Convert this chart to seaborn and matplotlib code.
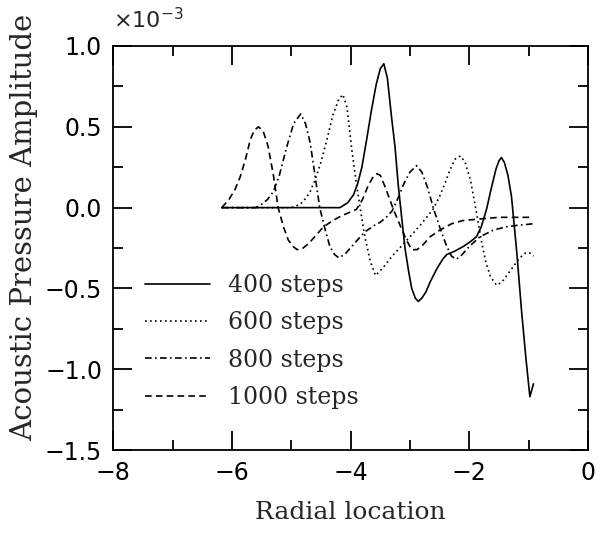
import numpy as np
import pandas as pd
import matplotlib
matplotlib.use("Agg")
import matplotlib.pyplot as plt
import seaborn as sns
from matplotlib.ticker import MultipleLocator, FormatStrFormatter

# amplitudes in units of 1e-3
x400 = [-6.17, -4.4, -4.18, -4.05, -3.95, -3.88, -3.81, -3.73, -3.65, -3.57, -3.5, -3.44,
        -3.38, -3.31, -3.25, -3.2, -3.14, -3.08, -3.02, -2.97, -2.91, -2.86, -2.8, -2.73,
        -2.66, -2.55, -2.45, -2.38, -2.25, -2.1, -1.98, -1.88, -1.8, -1.71, -1.63, -1.55,
        -1.5, -1.46, -1.41, -1.35, -1.29, -1.2, -1.12, -1.05, -0.98, -0.95, -0.92]
y400 = [0.0, 0.0, 0.0, 0.03, 0.08, 0.15, 0.25, 0.42, 0.6, 0.76, 0.86, 0.89,
        0.8, 0.56, 0.37, 0.15, -0.06, -0.26, -0.4, -0.5, -0.56, -0.58, -0.56, -0.52,
        -0.46, -0.38, -0.32, -0.29, -0.27, -0.24, -0.21, -0.18, -0.12, -0.01, 0.12, 0.24,
        0.29, 0.31, 0.28, 0.2, 0.07, -0.28, -0.64, -0.92, -1.17, -1.13, -1.09]

x600 = [-6.17, -5.0, -4.85, -4.75, -4.68, -4.6, -4.5, -4.4, -4.3, -4.2, -4.13, -4.06,
        -3.98, -3.91, -3.84, -3.76, -3.67, -3.58, -3.45, -3.3, -3.15, -3.0, -2.83, -2.72,
        -2.61, -2.5, -2.4, -2.33, -2.24, -2.15, -2.07, -1.98, -1.88, -1.8, -1.72, -1.64,
        -1.54, -1.45, -1.35, -1.25, -1.15, -1.05, -0.98, -0.92]
y600 = [0.0, 0.0, 0.02, 0.06, 0.1, 0.17, 0.28, 0.42, 0.57, 0.67, 0.7, 0.62,
        0.36, 0.17, 0.0, -0.18, -0.33, -0.42, -0.37, -0.3, -0.24, -0.18, -0.11, -0.06,
        -0.01, 0.07, 0.16, 0.23, 0.3, 0.32, 0.28, 0.17, -0.03, -0.2, -0.34, -0.43,
        -0.48, -0.46, -0.41, -0.36, -0.31, -0.28, -0.28, -0.3]

x800 = [-6.17, -5.6, -5.5, -5.4, -5.3, -5.2, -5.08, -4.96, -4.84, -4.76, -4.68, -4.6,
        -4.52, -4.44, -4.35, -4.27, -4.2, -4.1, -3.98, -3.86, -3.76, -3.6, -3.5, -3.4,
        -3.3, -3.2, -3.1, -3.0, -2.89, -2.8, -2.7, -2.6, -2.49, -2.38, -2.3, -2.22,
        -2.12, -2.0, -1.82, -1.6, -1.4, -1.2, -0.93]
y800 = [0.0, 0.0, 0.02, 0.05, 0.1, 0.2, 0.37, 0.52, 0.58, 0.52, 0.4, 0.2,
        0.0, -0.12, -0.24, -0.29, -0.31, -0.29, -0.24, -0.19, -0.15, -0.11, -0.09, -0.06,
        -0.02, 0.06, 0.15, 0.22, 0.26, 0.22, 0.12, -0.01, -0.13, -0.24, -0.3, -0.32,
        -0.29, -0.24, -0.18, -0.14, -0.12, -0.11, -0.1]

x1000 = [-6.17, -6.05, -5.95, -5.86, -5.77, -5.69, -5.62, -5.55, -5.47, -5.39, -5.3, -5.22,
         -5.13, -5.05, -4.97, -4.9, -4.8, -4.7, -4.58, -4.46, -4.3, -4.15, -4.02, -3.9,
         -3.8, -3.7, -3.62, -3.56, -3.5, -3.42, -3.35, -3.28, -3.2, -3.12, -3.06, -2.97,
         -2.88, -2.78, -2.66, -2.5, -2.3, -2.11, -1.82, -1.5, -1.2, -0.93]
y1000 = [0.0, 0.05, 0.11, 0.19, 0.3, 0.42, 0.48, 0.5, 0.47, 0.38, 0.2, 0.0,
         -0.12, -0.2, -0.24, -0.26, -0.25, -0.22, -0.17, -0.12, -0.08, -0.05, -0.03, -0.01,
         0.05, 0.14, 0.19, 0.21, 0.2, 0.13, 0.06, -0.01, -0.08, -0.15, -0.2, -0.26,
         -0.26, -0.23, -0.18, -0.14, -0.1, -0.08, -0.07, -0.06, -0.06, -0.06]

labels = ["400 steps", "600 steps", "800 steps", "1000 steps"]
styles = ["-", (0, (1, 2)), (0, (4, 2, 1, 2)), (0, (4, 2.5))]

sns.set_theme(style="ticks")
plt.rcParams['font.family'] = ['DejaVu Sans']

fig = plt.figure(figsize=(6.05, 5.41), dpi=100)
ax = fig.add_axes([0.187, 0.168, 0.785, 0.747])

series = [(x400, y400), (x600, y600), (x800, y800), (x1000, y1000)]
for (xs, ys), lab, ls in zip(series, labels, styles):
    df = pd.DataFrame({"r": xs, "p": ys})
    sns.lineplot(data=df, x="r", y="p", ax=ax, color="black", lw=1.2,
                 linestyle=ls, label=lab, sort=False, estimator=None)

ax.set_xlim(-8, 0)
ax.set_ylim(-1.5, 1.0)
ax.xaxis.set_major_locator(MultipleLocator(2))
ax.xaxis.set_minor_locator(MultipleLocator(1))
ax.yaxis.set_major_locator(MultipleLocator(0.5))
ax.yaxis.set_minor_locator(MultipleLocator(0.25))
ax.yaxis.set_major_formatter(FormatStrFormatter("%.1f"))
ax.set_yticklabels([t.get_text().replace("-", "\u2212") for t in ax.get_yticklabels()])

ax.tick_params(which="both", direction="in", top=True, right=True,
               labelsize=17, width=1.3, colors="black")
ax.tick_params(which="major", length=14, pad=8)
ax.tick_params(which="minor", length=7)
for s in ax.spines.values():
    s.set_linewidth(1.3)
    s.set_color("black")

# scale factor shown above the y axis
ax.text(0.0, 1.035, r"$\times10^{-3}$", transform=ax.transAxes, fontsize=16,
        ha="left", va="bottom")

ax.set_xlabel("Radial location", family="DejaVu Serif", fontsize=18, labelpad=11)
ax.set_ylabel("Acoustic Pressure Amplitude", family="DejaVu Serif", fontsize=21)
ax.yaxis.set_label_coords(-0.158, 0.55)

leg = ax.legend(loc="upper left", bbox_to_anchor=(0.067, 0.435), frameon=False,
                borderaxespad=0, borderpad=0, handlelength=2.75, handletextpad=0.76,
                labelspacing=0.6, prop={"family": "DejaVu Serif", "size": 17})

fig.savefig("out.png", dpi=100)
